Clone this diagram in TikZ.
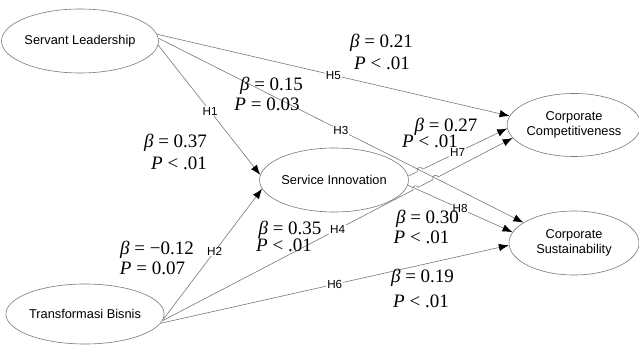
\documentclass[tikz,border=0pt]{standalone}
\usepackage{fontspec}
\setmainfont{Liberation Sans}
\newfontfamily\eqfont{Liberation Serif}
\usetikzlibrary{shapes.geometric,arrows.meta,calc,intersections}
\definecolor{linegray}{RGB}{120,120,120}
\begin{document}
\begin{tikzpicture}[x=1pt,y=1pt,
  latent/.style={ellipse, draw=linegray, line width=0.6pt, inner sep=0pt, align=center, font=\fontsize{12.8}{15}\selectfont},
  conn/.style={draw=linegray, line width=0.6pt, -{Latex[length=10pt,width=7.5pt,color=black]}},
  hlab/.style={fill=white, inner sep=0.8pt, font=\fontsize{11.7}{13}\selectfont},
  coef/.style={inner sep=0pt, font=\eqfont\fontsize{19}{21}\selectfont}]
\useasboundingbox (0,0) rectangle (639,345);

% latent variables
\node[latent, minimum width=136pt, minimum height=64pt] (SL) at (80,304) {Servant Leadership};
\node[latent, minimum width=138pt, minimum height=64pt] (SI) at (334,165) {Service Innovation};
\node[latent, minimum width=130pt, minimum height=63pt] (CC) at (574,220) {Corporate\\Competitiveness};
\node[latent, minimum width=130pt, minimum height=64pt] (CS) at (574,102) {Corporate\\Sustainability};
\node[latent, minimum width=136pt, minimum height=60pt] (TB) at (85,31) {Transformasi Bisnis};

% straight connectors
\draw[conn] (SL.5) -- (CC.172);                  % H5
\draw[conn, name path=p3] (SL.2) -- (CS.158);    % H3
\draw[conn] (SL.-3) -- (SI.176);                 % H1
\draw[conn] (TB.-4) -- (SI.187);                 % H2
\draw[conn] (TB.-7) -- (CS.182);                 % H6
\draw[conn, name path=p8] (SI.-4) -- (CS.170);   % H8

% connectors with line hops
\path[name path=p4] (TB.-5) -- (CC.192);
\path[name path=p7] (SI.3) -- (CC.183);
\path[name intersections={of=p4 and p8, by=x48}];
\path[name intersections={of=p4 and p3, by=x43}];
\path[name intersections={of=p7 and p3, by=x73}];

\draw[conn] let \p1=($(CC.192)-(TB.-5)$), \n1={atan2(\y1,\x1)} in
  (TB.-5) -- ($(x48)!3pt!(TB.-5)$) arc[start angle=\n1+180, end angle=\n1, radius=3pt]
  -- ($(x43)!3pt!(TB.-5)$) arc[start angle=\n1+180, end angle=\n1, radius=3pt]
  -- (CC.192);                                   % H4
\draw[conn] let \p1=($(CC.183)-(SI.3)$), \n1={atan2(\y1,\x1)} in
  (SI.3) -- ($(x73)!3pt!(SI.3)$) arc[start angle=\n1+180, end angle=\n1, radius=3pt]
  -- (CC.183);                                   % H7

% hypothesis labels
\path (SL.5) -- (CC.172) node[hlab, pos=0.5] (h5) {H5};
\path (SL.2) -- (CS.158) node[hlab, pos=0.5] (h3) {H3};
\path (SL.-3) -- (SI.176) node[hlab, pos=0.51] (h1) {H1};
\path (TB.-4) -- (SI.187) node[hlab, pos=0.52] (h2) {H2};
\path (TB.-5) -- (CC.192) node[hlab, pos=0.5] (h4) {H4};
\path (TB.-7) -- (CS.182) node[hlab, pos=0.5] (h6) {H6};
\path (SI.3) -- (CC.183) node[hlab, pos=0.5] (h7) {H7};
\path (SI.-4) -- (CS.170) node[hlab, pos=0.5] (h8) {H8};

% coefficients
\node[coef] (b21) at (381.5,302) {{\itshape β} = 0.21};
\node[coef] (p21) at (382,282) {{\itshape P} < .01};
\node[coef] (b15) at (271.5,259) {{\itshape β} = 0.15};
\node[coef] (p15) at (267,241) {{\itshape P} = 0.03};
\node[coef] (b37) at (175.5,202) {{\itshape β} = 0.37};
\node[coef] (p37) at (179,182) {{\itshape P} < .01};
\node[coef] (b27) at (446,218) {{\itshape β} = 0.27};
\node[coef] (p27) at (430,204) {{\itshape P} < .01};
\node[coef] (b30) at (427.5,126) {{\itshape β} = 0.30};
\node[coef] (p30) at (421.5,108) {{\itshape P} < .01};
\node[coef] (b35) at (290,115) {{\itshape β} = 0.35};
\node[coef] (p35) at (284,100) {{\itshape P} < .01};
\node[coef] (b12) at (157,95) {{\itshape β} = −0.12};
\node[coef] (p12) at (152.5,77) {{\itshape P} = 0.07};
\node[coef] (b19) at (422.5,67) {{\itshape β} = 0.19};
\node[coef] (p19) at (421,44) {{\itshape P} < .01};
\end{tikzpicture}
\end{document}
